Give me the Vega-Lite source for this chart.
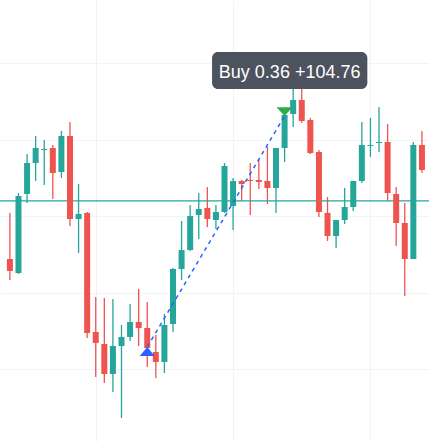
{
  "$schema": "https://vega.github.io/schema/vega-lite/v6.json",
  "width": 429,
  "height": 442,
  "autosize": {"type": "none"},
  "padding": 0,
  "background": "white",
  "config": {"view": {"stroke": null}},
  "datasets": {
    "candles": [
      {"i": 0, "o": 114.38, "c": 112.82, "h": 120.40, "l": 111.64},
      {"i": 1, "o": 112.55, "c": 122.62, "h": 123.01, "l": 112.42},
      {"i": 2, "o": 122.88, "c": 126.93, "h": 128.11, "l": 121.70},
      {"i": 3, "o": 126.93, "c": 128.89, "h": 130.46, "l": 124.58},
      {"i": 4, "o": 128.63, "c": 128.76, "h": 129.94, "l": 124.06},
      {"i": 5, "o": 128.89, "c": 125.63, "h": 129.29, "l": 122.23},
      {"i": 6, "o": 125.76, "c": 130.46, "h": 131.12, "l": 124.97},
      {"i": 7, "o": 130.46, "c": 119.61, "h": 132.29, "l": 118.70},
      {"i": 8, "o": 119.61, "c": 120.27, "h": 124.19, "l": 115.17},
      {"i": 9, "o": 120.40, "c": 104.71, "h": 120.53, "l": 104.06},
      {"i": 10, "o": 104.84, "c": 103.40, "h": 109.42, "l": 98.96},
      {"i": 11, "o": 103.27, "c": 99.35, "h": 109.29, "l": 98.17},
      {"i": 12, "o": 99.35, "c": 103.01, "h": 109.16, "l": 97.00},
      {"i": 13, "o": 103.01, "c": 104.19, "h": 105.76, "l": 93.60},
      {"i": 14, "o": 104.19, "c": 106.15, "h": 108.50, "l": 103.67},
      {"i": 15, "o": 106.15, "c": 105.36, "h": 110.46, "l": 103.01},
      {"i": 16, "o": 105.36, "c": 102.75, "h": 108.76, "l": 100.27},
      {"i": 17, "o": 102.23, "c": 100.92, "h": 104.45, "l": 98.83},
      {"i": 18, "o": 100.92, "c": 105.76, "h": 107.19, "l": 99.48},
      {"i": 19, "o": 105.89, "c": 113.08, "h": 113.21, "l": 104.84},
      {"i": 20, "o": 113.08, "c": 115.56, "h": 119.35, "l": 111.64},
      {"i": 21, "o": 115.56, "c": 120.00, "h": 121.44, "l": 115.43},
      {"i": 22, "o": 120.14, "c": 120.92, "h": 123.01, "l": 117.00},
      {"i": 23, "o": 121.05, "c": 119.61, "h": 123.80, "l": 118.57},
      {"i": 24, "o": 119.48, "c": 120.53, "h": 121.44, "l": 118.31},
      {"i": 25, "o": 120.53, "c": 126.54, "h": 126.93, "l": 120.40},
      {"i": 26, "o": 121.31, "c": 124.58, "h": 124.97, "l": 118.17},
      {"i": 27, "o": 124.58, "c": 124.19, "h": 124.71, "l": 121.97},
      {"i": 28, "o": 124.71, "c": 124.58, "h": 126.93, "l": 120.14},
      {"i": 29, "o": 124.71, "c": 124.45, "h": 127.33, "l": 123.53},
      {"i": 30, "o": 124.58, "c": 123.66, "h": 129.02, "l": 121.57},
      {"i": 31, "o": 123.66, "c": 128.89, "h": 128.89, "l": 120.40},
      {"i": 32, "o": 128.89, "c": 133.21, "h": 133.47, "l": 127.06},
      {"i": 33, "o": 133.34, "c": 135.17, "h": 137.26, "l": 131.64},
      {"i": 34, "o": 135.17, "c": 132.42, "h": 137.00, "l": 132.16},
      {"i": 35, "o": 132.55, "c": 128.24, "h": 132.82, "l": 128.11},
      {"i": 36, "o": 128.37, "c": 120.53, "h": 128.63, "l": 119.87},
      {"i": 37, "o": 120.40, "c": 117.39, "h": 122.49, "l": 116.74},
      {"i": 38, "o": 117.39, "c": 119.48, "h": 119.48, "l": 115.82},
      {"i": 39, "o": 119.48, "c": 121.18, "h": 123.66, "l": 118.96},
      {"i": 40, "o": 121.18, "c": 124.58, "h": 124.58, "l": 120.66},
      {"i": 41, "o": 124.58, "c": 129.29, "h": 132.29, "l": 124.32},
      {"i": 42, "o": 129.16, "c": 129.29, "h": 132.82, "l": 127.72},
      {"i": 43, "o": 129.55, "c": 129.68, "h": 134.25, "l": 128.37},
      {"i": 44, "o": 129.68, "c": 123.01, "h": 132.03, "l": 121.97},
      {"i": 45, "o": 122.88, "c": 119.09, "h": 123.80, "l": 116.08},
      {"i": 46, "o": 119.09, "c": 114.38, "h": 121.70, "l": 109.55},
      {"i": 47, "o": 114.38, "c": 129.29, "h": 129.68, "l": 114.38},
      {"i": 48, "o": 129.29, "c": 126.02, "h": 131.12, "l": 125.63}
    ],
    "trades": [
      {"i": 16, "p": 102.88, "side": "entry"},
      {"i": 32, "p": 133.08, "side": "exit"}
    ],
    "level": [
      {"p": 121.97}
    ],
    "label": [
      {"x1": 23.55, "x2": 41.64, "y1": 141.44, "y2": 136.61, "xt": 32.59, "yt": 138.04, "text": "Buy 0.36 +104.76"}
    ]
  },
  "layer": [
    {
      "data": {"name": "candles"},
      "mark": {"type": "rule", "strokeWidth": 1.3},
      "encoding": {
        "x": {"field": "i", "type": "quantitative", "scale": {"domain": [-0.57, 48.24], "nice": false, "zero": false},
          "axis": {"values": [10, 26, 42], "grid": true, "gridColor": "#f0f3fa", "gridWidth": 1, "labels": false, "ticks": false, "domain": false, "title": null}},
        "y": {"field": "l", "type": "quantitative", "scale": {"domain": [90.46, 148.24], "nice": false, "zero": false},
          "axis": {"values": [100, 110, 120, 130, 140], "grid": true, "gridColor": "#f0f3fa", "gridWidth": 1, "labels": false, "ticks": false, "domain": false, "title": null}},
        "y2": {"field": "h"},
        "color": {"condition": {"test": "datum.c < datum.o", "value": "#ef5350"}, "value": "#26a69a"}
      }
    },
    {
      "data": {"name": "level"},
      "mark": {"type": "rule", "color": "#26a69a", "strokeWidth": 1.3},
      "encoding": {
        "y": {"field": "p", "type": "quantitative", "scale": {"domain": [90.46, 148.24], "nice": false, "zero": false}}
      }
    },
    {
      "data": {"name": "candles"},
      "mark": {"type": "bar", "size": 6},
      "encoding": {
        "x": {"field": "i", "type": "quantitative", "scale": {"domain": [-0.57, 48.24], "nice": false, "zero": false}},
        "y": {"field": "o", "type": "quantitative", "scale": {"domain": [90.46, 148.24], "nice": false, "zero": false}},
        "y2": {"field": "c"},
        "color": {"condition": {"test": "datum.c < datum.o", "value": "#ef5350"}, "value": "#26a69a"}
      }
    },
    {
      "data": {"name": "trades"},
      "mark": {"type": "line", "color": "#2962ff", "strokeWidth": 1.5, "strokeDash": [4, 4]},
      "encoding": {
        "x": {"field": "i", "type": "quantitative", "scale": {"domain": [-0.57, 48.24], "nice": false, "zero": false}},
        "y": {"field": "p", "type": "quantitative", "scale": {"domain": [90.46, 148.24], "nice": false, "zero": false}}
      }
    },
    {
      "data": {"name": "trades"},
      "transform": [{"filter": "datum.side == 'entry'"}],
      "mark": {"type": "point", "filled": true, "opacity": 1, "color": "#2962ff", "shape": "M0,0L1,1.2L-1,1.2Z", "size": 225},
      "encoding": {
        "x": {"field": "i", "type": "quantitative", "scale": {"domain": [-0.57, 48.24], "nice": false, "zero": false}},
        "y": {"field": "p", "type": "quantitative", "scale": {"domain": [90.46, 148.24], "nice": false, "zero": false}}
      }
    },
    {
      "data": {"name": "trades"},
      "transform": [{"filter": "datum.side == 'exit'"}],
      "mark": {"type": "point", "filled": true, "opacity": 1, "color": "#2eab45", "shape": "M0,0L1,-1.1L-1,-1.1Z", "size": 256},
      "encoding": {
        "x": {"field": "i", "type": "quantitative", "scale": {"domain": [-0.57, 48.24], "nice": false, "zero": false}},
        "y": {"field": "p", "type": "quantitative", "scale": {"domain": [90.46, 148.24], "nice": false, "zero": false}}
      }
    },
    {
      "data": {"name": "label"},
      "mark": {"type": "rect", "color": "#4c525e", "cornerRadius": 6},
      "encoding": {
        "x": {"field": "x1", "type": "quantitative", "scale": {"domain": [-0.57, 48.24], "nice": false, "zero": false}},
        "x2": {"field": "x2"},
        "y": {"field": "y1", "type": "quantitative", "scale": {"domain": [90.46, 148.24], "nice": false, "zero": false}},
        "y2": {"field": "y2"}
      }
    },
    {
      "data": {"name": "label"},
      "mark": {"type": "text", "color": "#ffffff", "font": "Liberation Sans", "fontSize": 18, "align": "center", "baseline": "alphabetic"},
      "encoding": {
        "x": {"field": "xt", "type": "quantitative", "scale": {"domain": [-0.57, 48.24], "nice": false, "zero": false}},
        "y": {"field": "yt", "type": "quantitative", "scale": {"domain": [90.46, 148.24], "nice": false, "zero": false}},
        "text": {"field": "text"}
      }
    }
  ]
}
